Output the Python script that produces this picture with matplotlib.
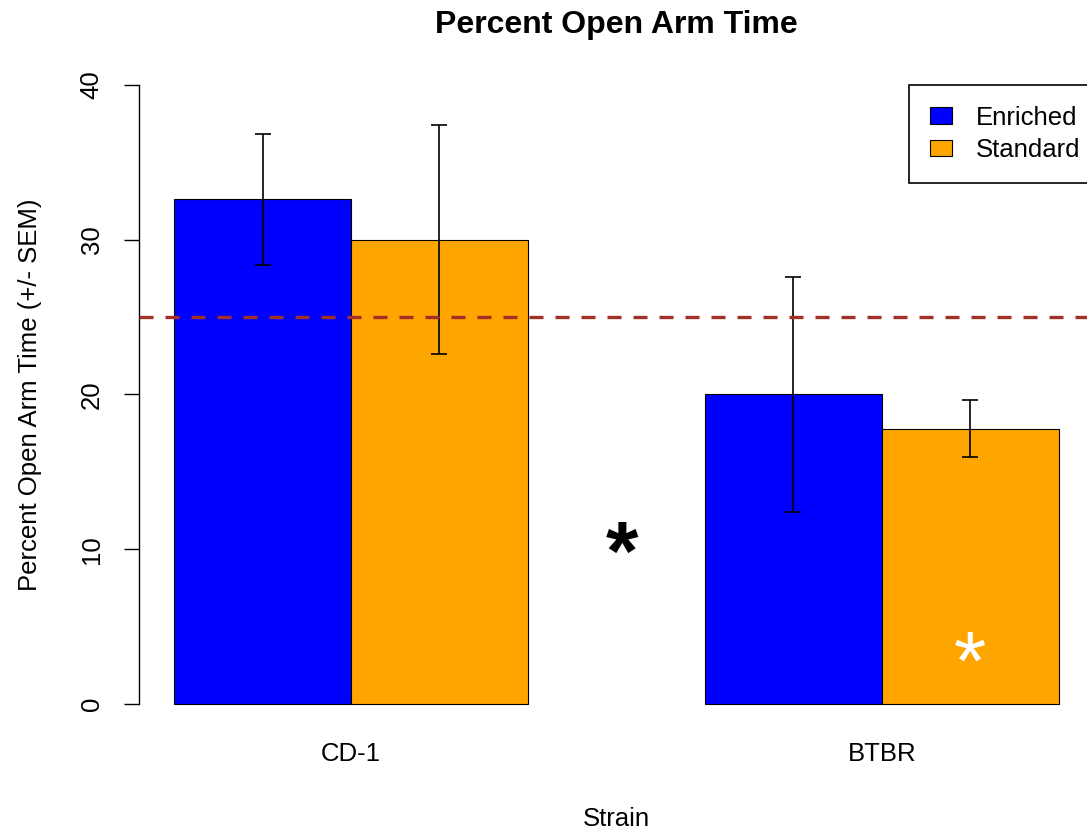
import matplotlib
matplotlib.use("Agg")
import matplotlib.pyplot as plt
from matplotlib.patches import Patch
import numpy as np

plt.rcParams['font.family'] = ['Liberation Sans', 'DejaVu Sans']

# ---- data ----
strains = ["CD-1", "BTBR"]
conditions = ["Enriched", "Standard"]
enriched_mean = [32.6, 20.0]
standard_mean = [30.0, 17.8]
enriched_sem = [4.25, 7.6]
standard_sem = [7.4, 1.85]
chance_level = 25
y_ticks = [0, 10, 20, 30, 40]

colors = {"Enriched": "#0000FF", "Standard": "#FFA500"}

W, H = 1087, 834
fig = plt.figure(figsize=(W / 100, H / 100), dpi=100)
ax = fig.add_axes([138.7 / W, (H - 728.8) / H, 955.3 / W, 668.6 / H])

# R-style barplot positions: groups with space c(0,1)
group_starts = np.array([1.0, 4.0])
x_enr = group_starts + 0.5
x_std = group_starts + 1.5

ax.bar(x_enr, enriched_mean, width=1.0, color=colors["Enriched"],
       edgecolor="black", linewidth=0.8, zorder=2)
ax.bar(x_std, standard_mean, width=1.0, color=colors["Standard"],
       edgecolor="black", linewidth=0.8, zorder=2)

ax.errorbar(np.concatenate([x_enr, x_std]),
            enriched_mean + standard_mean,
            yerr=enriched_sem + standard_sem,
            fmt="none", ecolor="black", elinewidth=1.2,
            capsize=6.1, capthick=1.2, zorder=3)

ax.axhline(chance_level, color="#A03028", lw=2.4,
           ls=(0, (4.2, 3.6)), zorder=4)

ax.set_xlim(0.8, 6.2)
ax.set_ylim(-1.6, 41.6)

ax.set_yticks(y_ticks)
ax.set_yticklabels([str(t) for t in y_ticks], rotation=90, va="center")
ax.tick_params(axis="y", length=10.8, width=1.0, pad=14.5,
               labelsize=18.5, colors="black")
ax.set_xticks((x_enr + x_std) / 2)
ax.set_xticklabels(strains)
ax.tick_params(axis="x", length=0, pad=9.5, labelsize=18.5)

for s in ["top", "right", "bottom"]:
    ax.spines[s].set_visible(False)
ax.spines["left"].set_bounds(0, 40)
ax.spines["left"].set_linewidth(1.0)

ax.set_ylabel("Percent Open Arm Time (+/- SEM)", fontsize=18.5, va="center")
ax.yaxis.set_label_coords((30 - 138.7) / 955.3, 0.5)
ax.set_xlabel("Strain", fontsize=18.5, va="center")
ax.xaxis.set_label_coords(0.5, -(819 - 728.8) / 668.6)

ax.set_title("Percent Open Arm Time", fontsize=23, fontweight="bold",
             y=((H - 25) - 105.2) / 668.6, va="center", pad=0)

# significance markers
ax.text(3.53, 8.0, "*", fontsize=60, fontweight="bold", color="black",
        ha="center", va="baseline", zorder=5)
ax.text(5.50, 0.95, "*", fontsize=60, color="white",
        ha="center", va="baseline", zorder=5)

handles = [Patch(facecolor=colors[c], edgecolor="black", linewidth=0.8)
           for c in conditions]
leg = ax.legend(handles, conditions, loc="upper left",
                bbox_to_anchor=(909 / W, 1 - 85 / H),
                bbox_transform=fig.transFigure, borderaxespad=0,
                fontsize=18.5, frameon=True, fancybox=False,
                edgecolor="black", framealpha=1, handlelength=0.86,
                handleheight=0.62, handletextpad=0.93, borderpad=0.8,
                labelspacing=0.33)
leg.get_frame().set_linewidth(1.2)

fig.savefig("out.png", dpi=100)
